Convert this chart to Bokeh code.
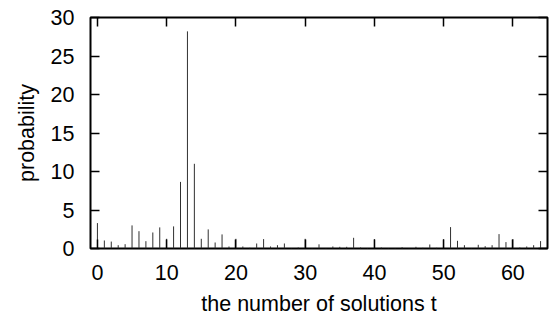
from bokeh.plotting import figure
from bokeh.models import LinearAxis, FixedTicker, Range1d, ColumnDataSource, CustomJSTickFormatter
from bokeh.embed import file_html
from bokeh.resources import INLINE

t = list(range(0, 65))
prob = [3.3, 1.04, 0.9, 0.43, 0.56, 3.0, 2.25, 0.95, 2.08, 2.74,
        1.26, 2.87, 8.65, 28.2, 11.0, 1.26, 2.48, 0.78, 1.83, 0.26,
        1.26, 0.26, 0.09, 0.65, 1.22, 0.26, 0.43, 0.65, 0.05, 0.13,
        1.26, 0.05, 0.54, 0.05, 0.26, 0.22, 0.22, 1.39, 0.13, 0.05,
        1.22, 0.13, 0.05, 0.05, 0.17, 0.03, 0.22, 0.09, 0.52, 0.09,
        1.22, 2.78, 1.0, 0.43, 0.05, 0.48, 0.3, 0.43, 1.87, 0.83,
        1.22, 0.13, 0.26, 0.43, 0.96]
x_ticks = [0, 10, 20, 30, 40, 50, 60]
y_ticks = [0, 5, 10, 15, 20, 25, 30]

FONT = "Liberation Sans"
FS = "21.5px"

src = ColumnDataSource(dict(t=t, p=prob, z=[0] * len(t)))

p = figure(width=550, height=323, output_backend="svg", toolbar_location=None,
           x_range=Range1d(-1, 65), y_range=Range1d(0, 30),
           min_border_left=90, min_border_right=3, min_border_top=17,
           min_border_bottom=75)
p.grid.visible = False
p.outline_line_color = "black"
p.outline_line_width = 2
p.background_fill_color = "white"
p.border_fill_color = "white"

p.segment(x0="t", y0="z", x1="t", y1="p", source=src, line_color="#303030", line_width=1)

def style(ax, show_labels=True):
    ax.axis_line_color = None
    ax.major_tick_in = 9
    ax.major_tick_out = 0
    ax.minor_tick_line_color = None
    ax.major_tick_line_width = 1.5
    ax.major_tick_line_color = "black"
    ax.major_label_text_font = FONT
    ax.major_label_text_font_size = FS
    ax.major_label_text_color = "black"
    ax.axis_label_text_font = FONT
    ax.axis_label_text_font_size = FS
    ax.axis_label_text_font_style = "normal"
    ax.axis_label_text_color = "black"
    if not show_labels:
        ax.formatter = CustomJSTickFormatter(code="return '';")
        ax.major_label_standoff = 0
        ax.axis_label_standoff = 0

xa = p.xaxis[0]
xa.ticker = FixedTicker(ticks=x_ticks)
xa.axis_label = "the number of solutions t"
style(xa)
xa.major_label_standoff = 16
xa.axis_label_standoff = 9

ya = p.yaxis[0]
ya.ticker = FixedTicker(ticks=y_ticks)
ya.axis_label = "probability"
style(ya)
ya.major_label_standoff = 16
ya.axis_label_standoff = 9

top = LinearAxis(ticker=FixedTicker(ticks=x_ticks))
style(top, False)
p.add_layout(top, "above")
right = LinearAxis(ticker=FixedTicker(ticks=y_ticks))
style(right, False)
p.add_layout(right, "right")

open("out.html", "w").write(file_html(p, INLINE))
